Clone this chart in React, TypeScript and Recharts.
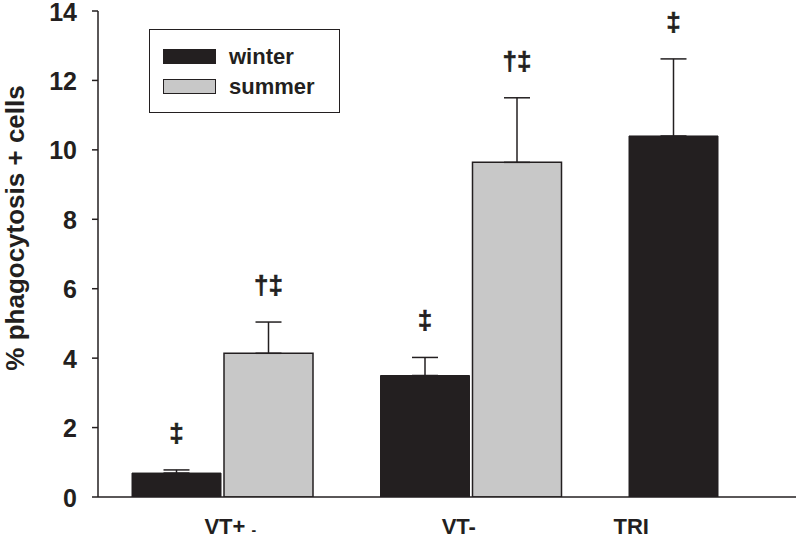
import React from 'react';
import { BarChart, Bar, XAxis, YAxis, ErrorBar, LabelList, Legend, Label } from 'recharts';

const groups = ['VT+', 'VT-', 'TRI'];
const winterValues = [0.69, 3.5, 10.4];
const summerValues: (number | null)[] = [4.14, 9.64, null];
const winterErrors = [0.09, 0.52, 2.22];
const summerErrors: (number | null)[] = [0.9, 1.86, null];
const winterMarks = ['‡', '‡', '‡'];
const summerMarks = ['†‡', '†‡', ''];
const yTicks = [0, 2, 4, 6, 8, 10, 12, 14];

const data = groups.map((g, i) => ({
  group: g,
  winter: winterValues[i],
  summer: summerValues[i],
  winterErr: [0, winterErrors[i]],
  summerErr: summerErrors[i] == null ? null : [0, summerErrors[i] as number],
}));

const FONT = '"Liberation Sans", Arial, Helvetica, sans-serif';
const INK = '#231f20';
const GRAY = '#c8c8c8';

const makeMark = (marks: string[], errs: (number | null)[]) => (props: any) => {
  const vb = props.viewBox || props;
  const { x, y, width, height } = vb;
  const value = props.value;
  const index = props.index;
  if (value == null || !marks[index]) return null;
  const ppu = Math.abs(height) / value;
  const top = y - (errs[index] ?? 0) * ppu;
  return (
    <text
      x={x + width / 2}
      y={top - 28}
      textAnchor="middle"
      fontFamily={FONT}
      fontWeight="bold"
      fontSize={26}
      stroke={INK}
      strokeWidth={0.6}
      fill={INK}
    >
      {marks[index]}
    </text>
  );
};

const tickShift = [8, -12, -88];

const CategoryTick = (props: any) => {
  const { x, y, payload, index } = props;
  const label = payload.value as string;
  return (
    <text
      x={x + (tickShift[index] ?? 0)}
      y={y + 37}
      textAnchor="middle"
      fontFamily={FONT}
      fontWeight="bold"
      fontSize={22}
      fill={INK}
    >
      {label}
      {index === 0 ? (
        <tspan dx={6} dy={1} fontSize={14}>-</tspan>
      ) : null}
    </text>
  );
};

const YTick = (props: any) => {
  const { x, y, payload } = props;
  return (
    <text
      x={x}
      y={y + 9.5}
      textAnchor="end"
      fontFamily={FONT}
      fontWeight="bold"
      fontSize={25}
      fill={INK}
    >
      {payload.value}
    </text>
  );
};

const LegendBox = () => (
  <div
    style={{
      width: 189,
      height: 82,
      border: `1.5px solid ${INK}`,
      boxSizing: 'content-box',
      position: 'relative',
      fontFamily: FONT,
      fontWeight: 'bold',
      fontSize: 22,
      color: INK,
      background: '#fff',
    }}
  >
    {[
      { name: 'winter', color: INK, top: 19 },
      { name: 'summer', color: GRAY, top: 49 },
    ].map((it) => (
      <div key={it.name} style={{ position: 'absolute', left: 13, top: it.top, display: 'flex', alignItems: 'center' }}>
        <div
          style={{
            width: 51,
            height: 13,
            background: it.color,
            border: `1px solid ${INK}`,
          }}
        />
        <span style={{ marginLeft: 13, lineHeight: '15px' }}>{it.name}</span>
      </div>
    ))}
  </div>
);

const YLabel = (props: any) => {
  const vb = props.viewBox;
  const cx = vb.x + 15;
  const cy = vb.y + vb.height / 2 - 26;
  return (
    <text
      transform={`translate(${cx},${cy}) rotate(-90)`}
      textAnchor="middle"
      dominantBaseline="central"
      fontFamily={FONT}
      fontWeight="bold"
      fontSize={26}
      fill={INK}
    >
      % phagocytosis + cells
    </text>
  );
};

export default function App() {
  return (
    <div
      style={{
        position: 'absolute',
        left: 0,
        top: 0,
        width: 796,
        height: 538,
        overflow: 'hidden',
        background: '#fff',
      }}
    >
      <BarChart
        width={860}
        height={538}
        data={data}
        margin={{ top: 11, right: 16.5, bottom: 0, left: 0 }}
        barSize={89}
        barGap={3}
      >
        <YAxis
          width={98}
          domain={[0, 14]}
          ticks={yTicks}
          type="number"
          interval={0}
          allowDataOverflow
          axisLine={{ stroke: INK, strokeWidth: 1.5 }}
          tickLine={{ stroke: INK, strokeWidth: 1.5 }}
          tickSize={6}
          tickMargin={15}
          tick={YTick}
        >
          <Label content={YLabel} />
        </YAxis>
        <XAxis
          dataKey="group"
          height={41}
          axisLine={{ stroke: INK, strokeWidth: 1.5 }}
          tickLine={false}
          tickSize={0}
          tickMargin={0}
          interval={0}
          tick={CategoryTick}
        />
        <Legend
          layout="vertical"
          verticalAlign="middle"
          align="center"
          wrapperStyle={{ left: 149, top: 29, width: 'auto', height: 'auto' }}
          content={LegendBox}
        />
        <Bar dataKey="winter" fill={INK} stroke={INK} strokeWidth={1} isAnimationActive={false}>
          <ErrorBar dataKey="winterErr" width={13} stroke={INK} strokeWidth={1.5} direction="y" />
          <LabelList dataKey="winter" content={makeMark(winterMarks, winterErrors)} />
        </Bar>
        <Bar dataKey="summer" fill={GRAY} stroke={INK} strokeWidth={1.5} isAnimationActive={false}>
          <ErrorBar dataKey="summerErr" width={13} stroke={INK} strokeWidth={1.5} direction="y" />
          <LabelList dataKey="summer" content={makeMark(summerMarks, summerErrors)} />
        </Bar>
      </BarChart>
    </div>
  );
}
